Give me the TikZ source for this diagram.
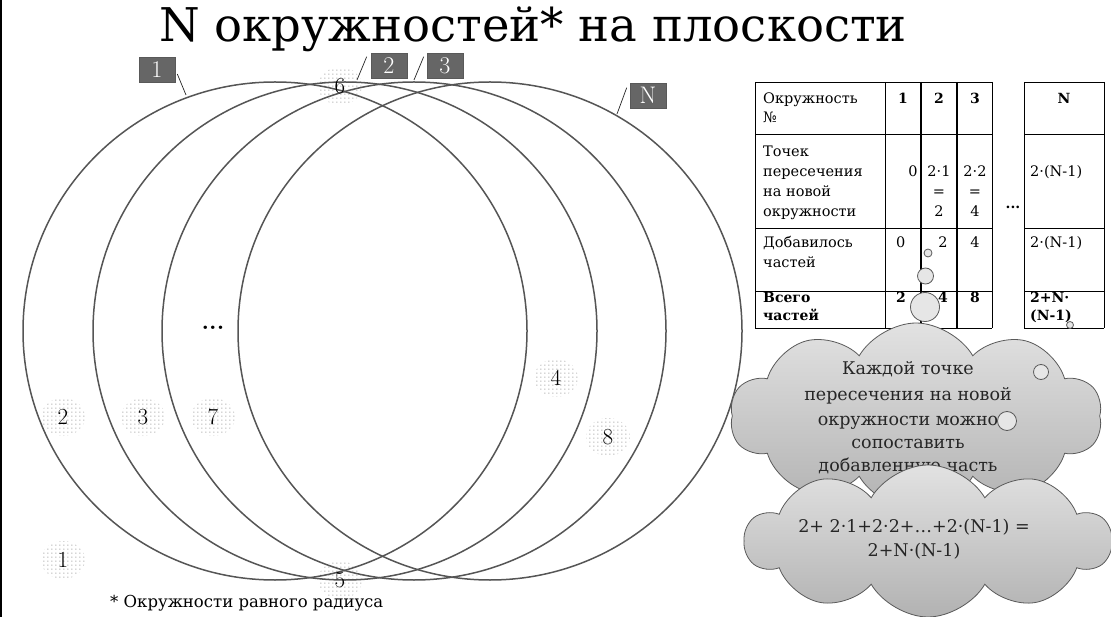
\documentclass[tikz,border=0pt]{standalone}
\usepackage{fontspec}
\newfontfamily\dv{DejaVu Serif}
\usetikzlibrary{shapes.symbols,patterns}
\pgfdeclarepatternformonly{sdots}{\pgfpointorigin}{\pgfpoint{4.4pt}{4.4pt}}{\pgfpoint{4.4pt}{4.4pt}}{\pgfpathcircle{\pgfpoint{1pt}{1pt}}{0.65pt}\pgfusepath{fill}}
\definecolor{circ}{HTML}{555555}
\definecolor{boxc}{HTML}{666666}
\definecolor{cline}{HTML}{5a5a5a}
\definecolor{ctop}{HTML}{e2e2e2}
\definecolor{cbot}{HTML}{b2b2b2}
\definecolor{bub}{HTML}{e6e6e6}
\tikzset{
  ring/.style={draw=circ, line width=1.5pt},
  halo/.style={pattern=sdots, pattern color=gray!90},
  num/.style={font=\fontsize{23}{26}\selectfont, inner sep=0},
  lbl/.style={fill=boxc, draw=gray!70!black, line width=0.6pt, text=white, minimum width=36pt, minimum height=25pt, inner sep=0, font=\fontsize{24}{26}\selectfont},
  leader/.style={draw=gray!30!black, line width=0.7pt},
  tline/.style={line width=0.8pt},
  tthick/.style={line width=1.8pt},
  tab/.style={font=\dv\fontsize{14.5}{20}\selectfont, anchor=base west, inner sep=0},
  tabc/.style={tab, anchor=base},
  tabb/.style={tab, font=\dv\bfseries\fontsize{14}{20}\selectfont},
  tabbc/.style={tabb, anchor=base},
  cloudbox/.style={cloud, cloud puffs=10, cloud puff arc=120, aspect=2.1, draw=cline, line width=0.8pt, top color=ctop, bottom color=cbot, inner sep=0},
  ctext/.style={font=\dv\fontsize{17.5}{24}\selectfont, anchor=base, inner sep=0, text=black!85},
  bubble/.style={circle, draw=cline, fill=bub, line width=0.8pt, inner sep=0},
}
\begin{document}
\begin{tikzpicture}[x=1pt,y=-1pt]
\useasboundingbox (0,0) rectangle (1111,617);
\fill[white] (0,0) rectangle (1111,617);
\draw[line width=2.5pt] (1,0) -- (1,617);

% title
\node[font=\dv\fontsize{46.5}{52}\selectfont, anchor=base west, inner sep=0] (title) at (159,42) {N окружностей* на плоскости};

% halos
\foreach \p/\q in {340/86, 63/417, 143/417, 213/417, 63/560, 340/580, 556/378, 608/437}
  \fill[halo] (\p,\q) ellipse (22 and 19);

% circles
\draw[ring] (275,331) ellipse (252 and 249);
\draw[ring] (345,331) ellipse (252 and 249);
\draw[ring] (414,331) ellipse (252 and 249);
\draw[ring] (490,331) ellipse (252 and 249);

% region numbers
\node[num] (n6) at (340,86) {6};
\node[num] (n2) at (63,417) {2};
\node[num] (n3) at (143,417) {3};
\node[num] (n7) at (213,417) {7};
\node[num] (n1) at (63,560) {1};
\node[num] (n5) at (340,580) {5};
\node[num] (n4) at (556,378) {4};
\node[num] (n8) at (608,437) {8};
\node[num, font=\bfseries\fontsize{24}{26}\selectfont] (ndots) at (213,328) {...};

% circle labels
\node[lbl] (b1) at (157,70) {1};
\node[lbl] (b2) at (389,65.5) {2};
\node[lbl] (b3) at (445,65.5) {3};
\node[lbl] (bN) at (648,95.5) {N};
\coordinate (e1) at (186,95);
\coordinate (e2) at (357,80);
\coordinate (e3) at (414,80);
\coordinate (eN) at (617,114);
\draw[leader] ([xshift=2pt,yshift=-4pt]b1.east) -- (e1);
\draw[leader] ([xshift=-4pt,yshift=-4pt]b2.north west) -- (e2);
\draw[leader] ([xshift=-3pt,yshift=-4pt]b3.north west) -- (e3);
\draw[leader] ([xshift=-3pt,yshift=-5pt]bN.north west) -- (eN);

% table
\foreach \yy in {82,134,228,291,328} {
  \draw[tline] (755,\yy) -- (992,\yy);
  \draw[tline] (1024,\yy) -- (1104,\yy);
}
\foreach \xx in {755,885,992,1024,1104}
  \draw[tline] (\xx,82) -- (\xx,328);
\foreach \xx in {921,957}
  \draw[tthick] (\xx,82) -- (\xx,328);

\node[tab] (r1a) at (763,104) {Окружность};
\node[tab] (r1b) at (763,123) {№};
\node[tabbc] (h1) at (903,104) {1};
\node[tabbc] (h2) at (939,104) {2};
\node[tabbc] (h3) at (975,104) {3};
\node[tabbc] (hN) at (1064,104) {N};

\node[tab] (r2a) at (763,157) {Точек};
\node[tab] (r2b) at (763,177) {пересечения};
\node[tab] (r2c) at (763,197) {на новой};
\node[tab] (r2d) at (763,217) {окружности};
\node[tabc] (v21) at (913,177) {0};
\node[tabc] (v22a) at (939,177) {2·1};
\node[tabc] (v22b) at (939,197) {=};
\node[tabc] (v22c) at (939,217) {2};
\node[tabc] (v23a) at (975,177) {2·2};
\node[tabc] (v23b) at (975,197) {=};
\node[tabc] (v23c) at (975,217) {4};
\node[tab] (v2N) at (1030,177) {2·(N-1)};
\node[tabbc] (gap) at (1013,209) {...};

\node[tab] (r3a) at (763,248) {Добавилось};
\node[tab] (r3b) at (763,268) {частей};
\node[tab] (v31) at (896,248) {0};
\node[tabc] (v32) at (943,248) {2};
\node[tabc] (v33) at (975,248) {4};
\node[tab] (v3N) at (1030,248) {2·(N-1)};

\node[tabb] (r4a) at (763,303) {Всего};
\node[tabb] (r4b) at (763,321) {частей};
\node[tabb] (v41) at (896,303) {2};
\node[tabbc] (v42) at (943,303) {4};
\node[tabbc] (v43) at (975,303) {8};
\node[tabb] (v4Na) at (1030,303) {2+N·};
\node[tabb] (v4Nb) at (1030,321) {(N-1)};

% cloud 1
\node[cloudbox, minimum width=372pt, minimum height=186pt] (cl1) at (916,416) {};
\node[ctext] (c1a) at (908,375) {Каждой точке};
\node[ctext] (c1b) at (908,400) {пересечения на новой};
\node[ctext] (c1c) at (908,425) {окружности можно};
\node[ctext] (c1d) at (908,448) {сопоставить};
\node[ctext] (c1e) at (908,471) {добавленную часть};

% cloud 2
\node[cloudbox, minimum width=366pt, minimum height=152pt] (cl2) at (928,541) {};
\node[ctext] (c2a) at (914,532) {2+ 2·1+2·2+…+2·(N-1) =};
\node[ctext] (c2b) at (914,556) {2+N·(N-1)};

% thought bubbles
\node[bubble, minimum size=8pt] (t1) at (928,253) {};
\node[bubble, minimum size=16pt] (t2) at (925.5,276) {};
\node[bubble, minimum size=29pt] (t3) at (925,307) {};
\node[bubble, minimum size=7pt] (u1) at (1070,325) {};
\node[bubble, minimum size=15pt] (u2) at (1041,372) {};
\node[bubble, minimum size=19pt] (u3) at (1007,421) {};

% footnote
\node[font=\dv\fontsize{16.5}{20}\selectfont, anchor=base west, inner sep=0] (foot) at (110,607) {* Окружности равного радиуса};
\end{tikzpicture}
\end{document}
